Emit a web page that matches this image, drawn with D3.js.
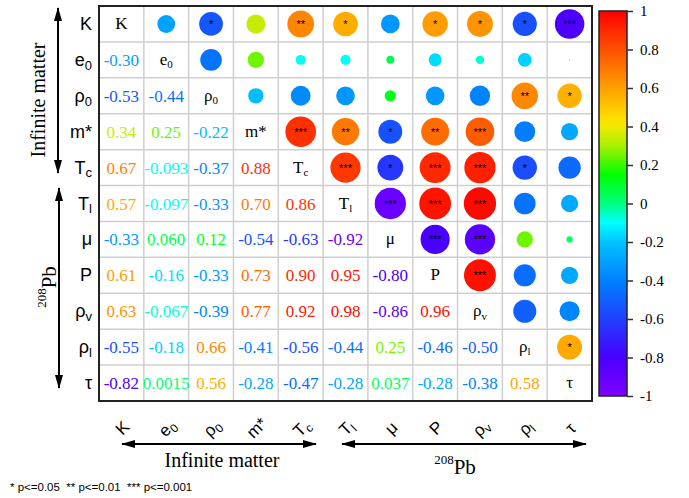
<!DOCTYPE html>
<html>
<head>
<meta charset="utf-8">
<script src="https://cdn.jsdelivr.net/npm/d3@7"></script>
<style>
  body { margin: 0; background: #fff; }
  svg { display: block; }
</style>
</head>
<body>
<script>
// variable names and subscripts
var names = ["K", "e", "ρ", "m*", "T", "T", "μ", "P", "ρ", "ρ", "τ"];
var subs  = ["", "0", "0", "", "c", "l", "", "", "v", "l", ""];

// lower triangle correlation values, row by row
var corr = [
  [],
  [-0.30],
  [-0.53, -0.44],
  [0.34, 0.25, -0.22],
  [0.67, -0.093, -0.37, 0.88],
  [0.57, -0.097, -0.33, 0.70, 0.86],
  [-0.33, 0.060, 0.12, -0.54, -0.63, -0.92],
  [0.61, -0.16, -0.33, 0.73, 0.90, 0.95, -0.80],
  [0.63, -0.067, -0.39, 0.77, 0.92, 0.98, -0.86, 0.96],
  [-0.55, -0.18, 0.66, -0.41, -0.56, -0.44, 0.25, -0.46, -0.50],
  [-0.82, 0.0015, 0.56, -0.28, -0.47, -0.28, 0.037, -0.28, -0.38, 0.58]
];

// number of stars (significance) for the same pairs
var sig = [
  [],
  [0],
  [1, 0],
  [0, 0, 0],
  [2, 0, 0, 3],
  [1, 0, 0, 2, 3],
  [0, 0, 0, 1, 1, 3],
  [1, 0, 0, 2, 3, 3, 3],
  [1, 0, 0, 3, 3, 3, 3, 3],
  [1, 0, 2, 0, 1, 0, 0, 0, 0],
  [3, 0, 1, 0, 0, 0, 0, 0, 0, 1]
];

var cbTicks = [-1, -0.8, -0.6, -0.4, -0.2, 0, 0.2, 0.4, 0.6, 0.8, 1];

var w = 689, h = 498;
var mLeft = 99, mRight = 592, mTop = 6, mBottom = 401;
var serif = "'Liberation Serif', 'Times New Roman', serif";
var sans = "'Liberation Sans', Arial, sans-serif";

// rainbow colour map
var color = d3.scaleLinear()
  .domain([-1, -0.8, -0.6, -0.4, -0.2, -0.1, 0, 0.15, 0.3, 0.42, 0.6, 0.8, 1])
  .range(["#8000ff", "#4800ff", "#2040ff", "#0080ff", "#00c4ff", "#00ffff", "#00ff80",
          "#00ff00", "#a8f000", "#ffe800", "#ffa000", "#ff5000", "#ff0000"])
  .interpolate(d3.interpolateRgb);

var svg = d3.select("body").append("svg")
  .attr("width", w)
  .attr("height", h);

var n = names.length;
var x = d3.scaleBand().domain(d3.range(n)).range([mLeft, mRight]);
var y = d3.scaleBand().domain(d3.range(n)).range([mTop, mBottom]);
var r = d3.scaleSqrt().domain([0, 1]).range([0, 16.3]);
var fmt = function(v) { return d3.format(".2g")(v).replace("−", "-"); };

// build cells
var cells = [];
for (var i = 0; i < n; i++) {
  for (var j = 0; j < n; j++) {
    if (i === j) cells.push({ i: i, j: j, type: "diag" });
    else if (j < i) cells.push({ i: i, j: j, type: "text", v: corr[i][j], s: sig[i][j] });
    else cells.push({ i: i, j: j, type: "circle", v: corr[j][i], s: sig[j][i] });
  }
}

/**** grid ****/
var grid = svg.append("g");
grid.selectAll("line.v").data(d3.range(1, n)).enter().append("line")
  .attr("x1", function(d) { return x(d); }).attr("x2", function(d) { return x(d); })
  .attr("y1", mTop).attr("y2", mBottom)
  .attr("stroke", "#cfcfcf").attr("stroke-width", 1.5);
grid.selectAll("line.h").data(d3.range(1, n)).enter().append("line")
  .attr("y1", function(d) { return y(d); }).attr("y2", function(d) { return y(d); })
  .attr("x1", mLeft).attr("x2", mRight)
  .attr("stroke", "#cfcfcf").attr("stroke-width", 1.5);

function label(sel, base, sub, subSize) {
  sel.append("tspan").text(base);
  if (sub) sel.append("tspan").attr("dy", "0.3em").attr("font-size", subSize).text(sub);
}

var cx = function(d) { return x(d.j) + x.bandwidth() / 2; };
var cy = function(d) { return y(d.i) + y.bandwidth() / 2; };

/**** circles ****/
svg.selectAll("circle.c").data(cells.filter(function(d) { return d.type === "circle"; }))
  .enter().append("circle")
  .attr("cx", cx).attr("cy", cy)
  .attr("r", function(d) { return r(Math.abs(d.v)); })
  .attr("fill", function(d) { return color(d.v); });

svg.selectAll("text.star").data(cells.filter(function(d) { return d.type === "circle" && d.s > 0; }))
  .enter().append("text")
  .attr("x", cx).attr("y", function(d) { return cy(d) + 4; })
  .attr("text-anchor", "middle")
  .attr("font-family", sans).attr("font-size", 11)
  .attr("fill", "#000")
  .text(function(d) { return "*".repeat(d.s); });

/**** values ****/
svg.selectAll("text.val").data(cells.filter(function(d) { return d.type === "text"; }))
  .enter().append("text")
  .attr("x", cx).attr("y", function(d) { return cy(d) + 6; })
  .attr("text-anchor", "middle")
  .attr("font-family", serif).attr("font-size", 17)
  .attr("fill", function(d) { return color(d.v); })
  .text(function(d) { return fmt(d.v); });

/**** diagonal labels ****/
svg.selectAll("text.diag").data(cells.filter(function(d) { return d.type === "diag"; }))
  .enter().append("text")
  .attr("x", cx).attr("y", function(d) { return cy(d) + 5; })
  .attr("text-anchor", "middle")
  .attr("font-family", serif).attr("font-size", 17)
  .attr("fill", "#000")
  .each(function(d) { label(d3.select(this), names[d.i], subs[d.i], 11); });

// frame
svg.append("rect")
  .attr("x", mLeft).attr("y", mTop)
  .attr("width", mRight - mLeft).attr("height", mBottom - mTop)
  .attr("fill", "none").attr("stroke", "#222").attr("stroke-width", 2);

/**** row labels ****/
svg.selectAll("text.row").data(d3.range(n)).enter().append("text")
  .attr("x", 92)
  .attr("y", function(d) { return y(d) + y.bandwidth() / 2 + 6; })
  .attr("text-anchor", "end")
  .attr("font-family", sans).attr("font-size", 18)
  .each(function(d) { label(d3.select(this), names[d], subs[d], 13); });

/**** column labels ****/
svg.selectAll("text.col").data(d3.range(n)).enter().append("text")
  .attr("transform", function(d) {
    return "translate(" + (x(d) + x.bandwidth() / 2 + 5) + ",432) rotate(-45)";
  })
  .attr("text-anchor", "middle")
  .attr("font-family", sans).attr("font-size", 17)
  .each(function(d) { label(d3.select(this), names[d], subs[d], 12); });

/**** arrows ****/
var defs = svg.append("defs");
defs.append("marker")
  .attr("id", "head")
  .attr("viewBox", "0 0 14 8")
  .attr("refX", 13).attr("refY", 4)
  .attr("markerWidth", 14).attr("markerHeight", 8)
  .attr("markerUnits", "userSpaceOnUse")
  .attr("orient", "auto-start-reverse")
  .append("path").attr("d", "M0,0 L14,4 L0,8 Z").attr("fill", "#000");

var arrows = [
  [58, 8, 58, 173],
  [59, 188, 59, 388],
  [122, 444, 316, 444],
  [342, 444, 586, 444]
];
svg.selectAll("line.arrow").data(arrows).enter().append("line")
  .attr("x1", function(d) { return d[0]; }).attr("y1", function(d) { return d[1]; })
  .attr("x2", function(d) { return d[2]; }).attr("y2", function(d) { return d[3]; })
  .attr("stroke", "#000").attr("stroke-width", 2)
  .attr("marker-start", "url(#head)").attr("marker-end", "url(#head)");

/**** group titles ****/
svg.append("text")
  .attr("transform", "translate(45,100) rotate(-90)")
  .attr("text-anchor", "middle")
  .attr("font-family", serif).attr("font-size", 20)
  .text("Infinite matter");

var pbLeft = svg.append("text")
  .attr("transform", "translate(52,287) rotate(-90)")
  .attr("text-anchor", "middle")
  .attr("font-family", serif).attr("font-size", 21);
pbLeft.append("tspan").attr("font-size", 13).attr("dy", "-0.45em").text("208");
pbLeft.append("tspan").attr("dy", "0.45em").text("Pb");

svg.append("text")
  .attr("x", 222).attr("y", 467)
  .attr("text-anchor", "middle")
  .attr("font-family", serif).attr("font-size", 20)
  .text("Infinite matter");

var pbBottom = svg.append("text")
  .attr("x", 455).attr("y", 470)
  .attr("text-anchor", "middle")
  .attr("font-family", serif).attr("font-size", 21);
pbBottom.append("tspan").attr("font-size", 13).attr("dy", "-0.45em").text("208");
pbBottom.append("tspan").attr("dy", "0.45em").text("Pb");

/**** footnote ****/
svg.append("text")
  .attr("x", 10).attr("y", 491)
  .attr("font-family", sans).attr("font-size", 11.5)
  .attr("style", "white-space: pre")
  .text("* p<=0.05  ** p<=0.01  *** p<=0.001");

/**** colour bar ****/
var cbX = 599, cbW = 28, cbTop = 11, cbBottom = 396;
var cbScale = d3.scaleLinear().domain([-1, 1]).range([cbBottom, cbTop]);

var grad = defs.append("linearGradient")
  .attr("id", "cbgrad")
  .attr("x1", 0).attr("y1", 1).attr("x2", 0).attr("y2", 0);
grad.selectAll("stop").data(d3.range(-1, 1.0001, 0.05)).enter().append("stop")
  .attr("offset", function(d) { return (d + 1) / 2; })
  .attr("stop-color", function(d) { return color(d); });

svg.append("rect")
  .attr("x", cbX).attr("y", cbTop)
  .attr("width", cbW).attr("height", cbBottom - cbTop)
  .attr("fill", "url(#cbgrad)")
  .attr("stroke", "#222").attr("stroke-width", 1.5);

var cbAxis = d3.axisRight(cbScale)
  .tickValues(cbTicks)
  .tickSize(6)
  .tickPadding(7)
  .tickFormat(function(d) { return Math.abs(d) < 1e-9 ? "0" : d3.format("~g")(d).replace("−", "-"); });

var cbG = svg.append("g")
  .attr("transform", "translate(" + (cbX + cbW) + ",0)")
  .call(cbAxis);
cbG.select(".domain").remove();
cbG.selectAll(".tick line").attr("stroke", "#333").attr("stroke-width", 1.5);
cbG.selectAll(".tick text")
  .attr("font-family", serif).attr("font-size", 15).attr("fill", "#000");
</script>
</body>
</html>
